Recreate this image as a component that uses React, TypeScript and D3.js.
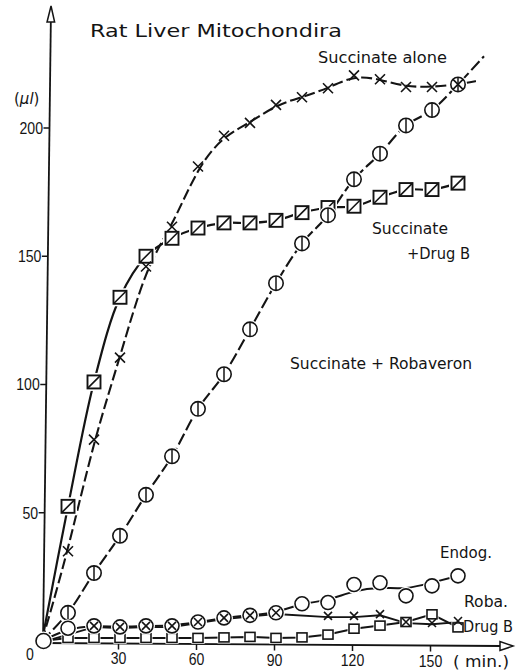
import React from "react";
import * as d3 from "d3";

const W = 521;
const H = 671;

// ---- data ----
const minutes = [0, 10, 20, 30, 40, 50, 60, 70, 80, 90, 100, 110, 120, 130, 140, 150, 160];
const succinateAlone = [0, 35, 78.5, 110.5, 146, 161.5, 185, 197, 202, 209, 212, 215.5, 220.5, 219, 216, 216, 217];
const succinateAloneCurveEnd = [168, 218.5];
const succinateDrugB = [0, 52.5, 101, 134, 150, 157, 161, 163, 163, 164, 167, 169, 169.5, 173, 176, 176, 178.5];
const succinateRobaveron = [0, 11, 26.5, 41, 57, 72, 90.5, 104, 121.5, 139.5, 155, 166, 180, 190, 201, 207, 217];
const robaveronCurveEnd = [170, 228];
const endog = [0, 5, 5.9, 5.5, 5.9, 5.9, 7.4, 9, 10, 11, 14.5, 15, 22, 22.7, 17.6, 21.5, 25.4];
const robaMinutes = [0, 20, 30, 40, 50, 60, 70, 80, 90, 110, 120, 130, 140, 150, 160];
const roba = [0, 5.9, 5.5, 5.9, 5.9, 7.4, 9, 10, 11, 9.8, 9.8, 10.5, 7.4, 7, 7.8];
const drugB = [0, 1.2, 1.2, 1.2, 1.2, 1.2, 1.2, 1.4, 1.6, 1.2, 1.4, 2.5, 4.8, 6, 7.4, 10.4, 5.3];

const xTicks = [30, 60, 90, 120, 150];
const yTicks = [50, 100, 150, 200];

const title = "Rat Liver Mitochondira";
const unitLabel = "μl";
const timeLabel = "( min.)";

const ink = "#141414";
const font = "'DejaVu Sans', 'Liberation Sans', sans-serif";
const numFont = "'Liberation Sans', Arial, sans-serif";

type P = [number, number];

export default function App() {
  const x = d3.scaleLinear().domain([0, 160]).range([42, 458]);
  const y = d3.scaleLinear().domain([0, 200]).range([641, 128]);

  const pts = (ts: number[], vs: number[]): P[] => ts.map((t, i) => [t, vs[i]] as P);

  const sAlone = pts(minutes, succinateAlone);
  const sDrug = pts(minutes, succinateDrugB);
  const sRoba = pts(minutes, succinateRobaveron);
  const pEndog = pts(minutes, endog);
  const pRoba = pts(robaMinutes, roba);
  const pDrugB = pts(minutes, drugB);

  const mk = (curve: d3.CurveFactory) =>
    d3.line<P>().x((d) => x(d[0])).y((d) => y(d[1])).curve(curve);

  const lineBasis = mk(d3.curveBasis);
  const lineBundle = mk(d3.curveBundle.beta(0.4));
  const lineCR = mk(d3.curveCatmullRom.alpha(0.5));
  const lineLin = mk(d3.curveLinear);

  // the endogenous curve is a hand-fitted line: smooth through the early points,
  // bundled (fitted) through the scattered late points
  const endogSplit = 10;
  const endogEarly = pEndog.slice(0, endogSplit + 1);
  const endogLate = pEndog.slice(endogSplit);

  // slightly tilted axes as on the scanned original
  const yAxisX = (py: number) => 43 + ((643 - py) * 8) / 635;
  const xAxisY = (px: number) => 643 + ((px - 43) * 3) / 460;

  const cross = (cx: number, cy: number, s: number, w: number, key: string) => (
    <path
      key={key}
      d={`M${cx - s},${cy - s}L${cx + s},${cy + s}M${cx - s},${cy + s}L${cx + s},${cy - s}`}
      stroke={ink}
      strokeWidth={w}
      fill="none"
    />
  );

  const xEnd = 500;
  const yTop = 22;

  return (
    <svg width={W} height={H} style={{ position: "absolute", left: 0, top: 0, background: "#fff" }}>
      <rect x={0} y={0} width={W} height={H} fill="#fff" />

      {/* axes */}
      <line x1={yAxisX(645)} y1={645} x2={yAxisX(yTop)} y2={yTop} stroke={ink} strokeWidth={1.8} />
      <path
        d={`M${yAxisX(6)},6 L${yAxisX(22) + 3.8},22 L${yAxisX(22) - 3.8},22 Z`}
        fill="#fff"
        stroke={ink}
        strokeWidth={1.5}
      />
      <line x1={40} y1={xAxisY(40)} x2={xEnd} y2={xAxisY(xEnd)} stroke={ink} strokeWidth={1.8} />
      <path
        d={`M${xEnd + 13},${xAxisY(xEnd + 13)} L${xEnd},${xAxisY(xEnd) - 4.5} L${xEnd},${xAxisY(xEnd) + 4.5} Z`}
        fill="#fff"
        stroke={ink}
        strokeWidth={1.5}
      />

      {/* y ticks */}
      {yTicks.map((v) => {
        const py = y(v);
        const ax = yAxisX(py);
        return (
          <g key={"yt" + v}>
            <line x1={ax - 6} y1={py} x2={ax} y2={py} stroke={ink} strokeWidth={1.5} />
            <text
              x={ax - 6.5}
              y={py + 6}
              textAnchor="end"
              fontFamily={numFont}
              fontSize={16}
              fill={ink}
              transform={`translate(${ax - 6.5},0) scale(0.88,1) translate(${-(ax - 6.5)},0)`}
            >
              {v}
            </text>
          </g>
        );
      })}
      <text x={14} y={104} fontFamily={font} fontSize={15} fill={ink}>
        (<tspan fontStyle="italic">{unitLabel}</tspan>)
      </text>

      {/* x ticks */}
      {xTicks.map((t) => {
        const px = x(t) - 1.5;
        const ay = xAxisY(px);
        return (
          <g key={"xt" + t}>
            <line x1={px} y1={ay} x2={px} y2={ay + 6} stroke={ink} strokeWidth={1.5} />
            <text
              x={px}
              y={ay + 21}
              textAnchor="middle"
              fontFamily={numFont}
              fontSize={16}
              fill={ink}
              transform={`translate(${px},0) scale(0.88,1) translate(${-px},0)`}
            >
              {t}
            </text>
          </g>
        );
      })}
      <text
        x={30}
        y={660}
        textAnchor="middle"
        fontFamily={numFont}
        fontSize={16}
        fill={ink}
        transform="translate(30,0) scale(0.88,1) translate(-30,0)"
      >
        0
      </text>
      <text x={453} y={667} fontFamily={font} fontSize={15} fill={ink} textLength={56} lengthAdjust="spacingAndGlyphs">
        {timeLabel}
      </text>

      {/* curves */}
      <path
        d={lineBasis([...sAlone, succinateAloneCurveEnd as P]) || ""}
        fill="none"
        stroke={ink}
        strokeWidth={2.1}
        strokeDasharray="11,4"
      />
      <path d={lineCR(sDrug) || ""} fill="none" stroke={ink} strokeWidth={2.2} />
      <path
        d={lineCR([...sRoba, robaveronCurveEnd as P]) || ""}
        fill="none"
        stroke={ink}
        strokeWidth={2.1}
        strokeDasharray="12,4"
      />
      <path d={lineBasis(endogEarly) || ""} fill="none" stroke={ink} strokeWidth={2} />
      <path d={lineBundle(endogLate) || ""} fill="none" stroke={ink} strokeWidth={2} />
      <path d={lineLin(pRoba) || ""} fill="none" stroke={ink} strokeWidth={1.8} transform="translate(0,1.2)" />
      <path d={lineLin(pDrugB) || ""} fill="none" stroke={ink} strokeWidth={2} />

      {/* Succinate + Drug B : squares with diagonal */}
      {sDrug
        .filter((d) => d[0] > 0)
        .map((d, i) => {
          const cx = x(d[0]);
          const cy = y(d[1]);
          const h = 6.5;
          return (
            <g key={"sq" + i}>
              <rect x={cx - h} y={cy - h} width={2 * h} height={2 * h} fill="#fff" stroke="#fff" strokeWidth={5} />
              <rect x={cx - h} y={cy - h} width={2 * h} height={2 * h} fill="#fff" stroke={ink} strokeWidth={1.9} />
              <line x1={cx - h} y1={cy + h} x2={cx + h} y2={cy - h} stroke={ink} strokeWidth={1.6} />
            </g>
          );
        })}

      {/* Succinate + Robaveron : circles with vertical bar */}
      {sRoba
        .filter((d) => d[0] > 0)
        .map((d, i) => {
          const cx = x(d[0]);
          const cy = y(d[1]);
          const r = 7.2;
          return (
            <g key={"ro" + i}>
              <circle cx={cx} cy={cy} r={r} fill="#fff" stroke="#fff" strokeWidth={4} />
              <circle cx={cx} cy={cy} r={r} fill="#fff" stroke={ink} strokeWidth={1.6} />
              <line x1={cx} y1={cy - r} x2={cx} y2={cy + r} stroke={ink} strokeWidth={1.5} />
            </g>
          );
        })}

      {/* Drug B alone : small squares */}
      {pDrugB
        .filter((d) => d[0] > 0)
        .map((d, i) => {
          const cx = x(d[0]);
          const cy = y(d[1]);
          return (
            <g key={"db" + i}>
              <rect x={cx - 5} y={cy - 4.5} width={10} height={9} fill="#fff" stroke="#fff" strokeWidth={3} />
              <rect x={cx - 5} y={cy - 4.5} width={10} height={9} fill="#fff" stroke={ink} strokeWidth={1.6} />
            </g>
          );
        })}

      {/* Endogenous : open circles */}
      {pEndog.map((d, i) => {
        const cx = x(d[0]) + (d[0] === 0 ? 1.5 : 0);
        const cy = y(d[1]);
        const r = d[0] === 0 ? 7.5 : 7;
        return (
          <g key={"en" + i}>
            <circle cx={cx} cy={cy} r={r} fill="#fff" stroke="#fff" strokeWidth={4} />
            <circle cx={cx} cy={cy} r={r} fill="#fff" stroke={ink} strokeWidth={1.6} />
          </g>
        );
      })}

      {/* Robaveron alone : small crosses */}
      {pRoba.filter((d) => d[0] > 0).map((d, i) => cross(x(d[0]), y(d[1]), 4, 1.6, "rx" + i))}

      {/* Succinate alone : crosses */}
      {sAlone.filter((d) => d[0] > 0).map((d, i) => cross(x(d[0]), y(d[1]), 5, 1.6, "sx" + i))}

      {/* texts */}
      <text x={90} y={37} fontFamily={font} fontSize={18} fill={ink} textLength={252} lengthAdjust="spacingAndGlyphs">
        {title}
      </text>
      <text x={318} y={63} fontFamily={font} fontSize={15} fill={ink} textLength={129} lengthAdjust="spacingAndGlyphs">
        Succinate alone
      </text>
      <text x={372} y={234} fontFamily={font} fontSize={15} fill={ink} textLength={76} lengthAdjust="spacingAndGlyphs">
        Succinate
      </text>
      <text x={407} y={259} fontFamily={font} fontSize={15} fill={ink} textLength={63} lengthAdjust="spacingAndGlyphs">
        +Drug B
      </text>
      <text x={290} y={369} fontFamily={font} fontSize={15} fill={ink} textLength={182} lengthAdjust="spacingAndGlyphs">
        Succinate + Robaveron
      </text>
      <text x={440} y={558} fontFamily={font} fontSize={15} fill={ink} textLength={52} lengthAdjust="spacingAndGlyphs">
        Endog.
      </text>
      <text x={464} y={607} fontFamily={font} fontSize={15} fill={ink} textLength={44} lengthAdjust="spacingAndGlyphs">
        Roba.
      </text>
      <text x={463} y={632} fontFamily={font} fontSize={15} fill={ink} textLength={50} lengthAdjust="spacingAndGlyphs">
        Drug B
      </text>
    </svg>
  );
}
